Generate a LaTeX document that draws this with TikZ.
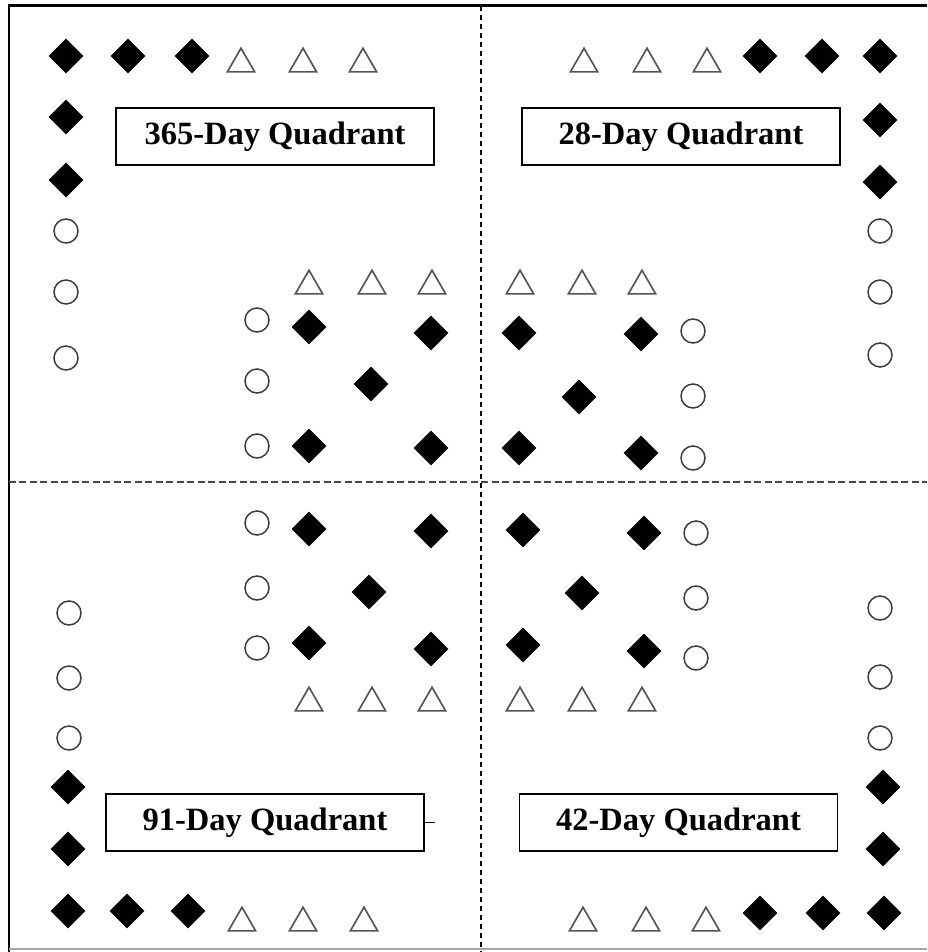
\documentclass[tikz,border=0pt]{standalone}
\usepackage{fontspec}
\setmainfont{Liberation Serif}
\usepackage{tikz}
\usetikzlibrary{shapes.geometric,positioning}
\definecolor{markgray}{RGB}{85,85,85}
\definecolor{ringgray}{RGB}{60,60,60}
\definecolor{splitgray}{RGB}{70,70,70}

\begin{document}
\begin{tikzpicture}[x=0.02cm, y=-0.02cm,
dmd/.style={diamond, fill=black, inner sep=0pt, minimum width=0.7cm, minimum height=0.7cm},
tri/.style={regular polygon, regular polygon sides=3, draw=markgray, line width=0.95pt,
inner sep=0pt, minimum size=0.63cm},
ring/.style={circle, draw=ringgray, line width=0.85pt, inner sep=0pt, minimum size=0.48cm},
quad/.style={draw, line width=1pt, inner sep=0pt, minimum width=6.36cm, minimum height=1.14cm,
font=\fontsize{18.5}{22}\selectfont\bfseries}
]
\useasboundingbox (0,0) rectangle (927,952);

% frame
\coordinate (tl) at (9,6);
\coordinate (tr) at (927,6);
\coordinate (bl) at (9,952);
\coordinate (bbl) at (9,949);
\coordinate (bbr) at (927,949);
\draw[line width=1.7pt] (8,6) -- (tr);
\draw[line width=1.7pt] (tl) -- (bl);
\draw[gray!70, line width=0.8pt] (bbl) -- (bbr);

% quadrant split
\coordinate (vtop) at (481,6);
\coordinate (vbot) at (481,952);
\coordinate (hleft) at (9,482);
\coordinate (hright) at (927,482);
\draw[dash pattern=on 0.1cm off 0.08cm, line width=0.7pt] (vtop) -- (vbot);
\draw[splitgray, dash pattern=on 0.14cm off 0.07cm, line width=0.8pt] (hleft) -- (hright);

% labels
\node[quad] (q365) at (275,136.5) {365-Day Quadrant};
\node[quad] (q28) at (681,136.5) {28-Day Quadrant};
\node[quad] (q91) at (265,822.5) {91-Day Quadrant};
\node[quad] (q42) at (678.5,822.5) {42-Day Quadrant};
\coordinate (stub) at (435,822.5);
\draw[line width=0.7pt] (q91.east) -- (stub);

% filled diamonds
\foreach \p [count=\i] in {{66,56},{128,56},{192,56},{66,117},{66,180},
{760,56},{822,56},{880,56},{880,120},{880,182},
{68,787},{68,849},{68,911},{127,911},{188,911},
{883,787},{883,849},{884,913},{823,913},{760,913},
{309,327},{431,333},{371,384},{309,446},{431,448},
{519,333},{641,334},{579,397},{519,448},{641,453},
{309,529},{431,531},{369,592},{309,643},{431,649},
{523,530},{644,533},{582,593},{523,645},{644,651}}
\node[dmd] (d\i) at (\p) {};

% open triangles
\foreach \p [count=\i] in {{241,64},{303,64},{363,64},
{584,64},{647,64},{707,64},
{309,286},{372,286},{432,286},{520,286},{582,286},{642,286},
{309,703},{372,703},{432,703},{520,703},{582,703},{642,703},
{242,923},{303,923},{364,923},{583,923},{646,923},{706,923}}
\node[tri] (t\i) at (\p) {};

% open circles
\foreach \p [count=\i] in {{66,231},{66,292},{66,358},
{880,231},{880,292},{880,355},
{257,320},{257,381},{257,446},{257,523},{257,588},{257,648},
{693,331},{693,396},{693,458},{696,533},{696,598},{696,658},
{69,613},{69,678},{69,738},
{880,608},{880,677},{880,738}}
\node[ring] (c\i) at (\p) {};

\end{tikzpicture}
\end{document}
